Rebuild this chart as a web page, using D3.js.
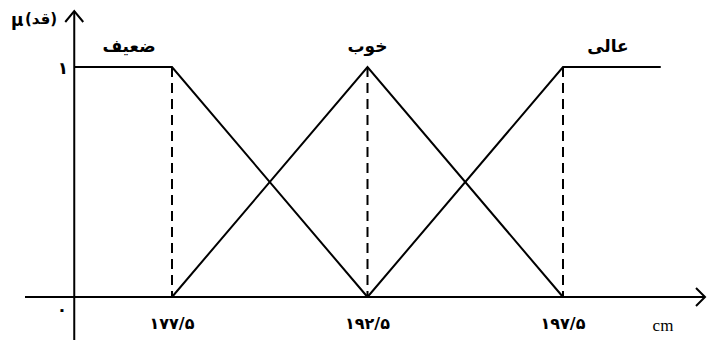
<!DOCTYPE html>
<html>
<head>
<meta charset="utf-8">
<script src="https://cdn.jsdelivr.net/npm/d3@7"></script>
<style>
  body { margin: 0; background: #fff; }
  text { font-family: "DejaVu Sans", sans-serif; font-weight: bold; fill: #000; }
</style>
</head>
<body>
<script>
// tick labels on the x axis and where they sit (index units)
var tickLabels = ["۱۷۷/۵", "۱۹۲/۵", "۱۹۷/۵"];
var tickPos = [1, 2, 3];

// membership functions: [x index, mu]
var weak = [[0.5, 1], [1, 1], [2, 0]];   // ضعیف
var good = [[1, 0], [2, 1], [3, 0]];     // خوب
var high = [[2, 0], [3, 1], [3.5, 1]];   // عالی

var setNames = ["ضعیف", "خوب", "عالی"];
var setLabelPos = [0.78, 2, 3.23];

var width = 707, height = 345;

var svg = d3.select("body").append("svg")
    .attr("width", width)
    .attr("height", height);

var x = d3.scaleLinear().domain([1, 3]).range([172, 563]);
var y = d3.scaleLinear().domain([0, 1]).range([297, 67]);

var line = d3.line()
    .x(function(d) { return x(d[0]); })
    .y(function(d) { return y(d[1]); });

// axes
var x0 = x(0.5);
svg.append("line")
    .attr("x1", 25).attr("x2", 705)
    .attr("y1", y(0)).attr("y2", y(0))
    .attr("stroke", "#000").attr("stroke-width", 2);
svg.append("path")
    .attr("d", "M696," + (y(0) - 9) + "L705," + y(0) + "L696," + (y(0) + 9))
    .attr("fill", "none").attr("stroke", "#000").attr("stroke-width", 2);

svg.append("line")
    .attr("x1", x0).attr("x2", x0)
    .attr("y1", 340).attr("y2", 11)
    .attr("stroke", "#000").attr("stroke-width", 2);
svg.append("path")
    .attr("d", "M" + (x0 - 9) + ",22L" + x0 + ",11L" + (x0 + 9) + ",22")
    .attr("fill", "none").attr("stroke", "#000").attr("stroke-width", 2);

// dashed guides
svg.selectAll(".guide")
    .data(tickPos)
    .enter().append("line")
    .attr("class", "guide")
    .attr("x1", function(d) { return x(d); })
    .attr("x2", function(d) { return x(d); })
    .attr("y1", y(1)).attr("y2", y(0))
    .attr("stroke", "#000").attr("stroke-width", 2)
    .attr("stroke-dasharray", "10,6");

// membership lines
svg.selectAll(".mf")
    .data([weak, good, high])
    .enter().append("path")
    .attr("class", "mf")
    .attr("d", line)
    .attr("fill", "none")
    .attr("stroke", "#000")
    .attr("stroke-width", 2);

// set names
svg.selectAll(".setname")
    .data(setNames)
    .enter().append("text")
    .attr("class", "setname")
    .attr("x", function(d, i) { return x(setLabelPos[i]); })
    .attr("y", 52)
    .attr("text-anchor", "middle")
    .style("font-size", "17px")
    .text(function(d) { return d; });

// tick labels
svg.selectAll(".tick")
    .data(tickLabels)
    .enter().append("text")
    .attr("class", "tick")
    .attr("x", function(d, i) { return x(tickPos[i]); })
    .attr("y", 329)
    .attr("text-anchor", "middle")
    .style("font-size", "16px")
    .text(function(d) { return d; });

// y labels
svg.append("text").attr("x", 63).attr("y", y(1) + 7)
    .attr("text-anchor", "middle").style("font-size", "17px").text("۱");
svg.append("text").attr("x", 62).attr("y", y(0) + 18)
    .attr("text-anchor", "middle").style("font-size", "17px").text("۰");

svg.append("text").attr("x", 11).attr("y", 26)
    .style("font-size", "17px").text("μ");
svg.append("text").attr("x", 25).attr("y", 24)
    .style("font-size", "15px").text("(قد)");

svg.append("text").attr("x", 663).attr("y", 331)
    .attr("text-anchor", "middle")
    .style("font-family", "'Liberation Serif', serif")
    .style("font-weight", "normal")
    .style("font-size", "17px")
    .text("cm");
</script>
</body>
</html>
